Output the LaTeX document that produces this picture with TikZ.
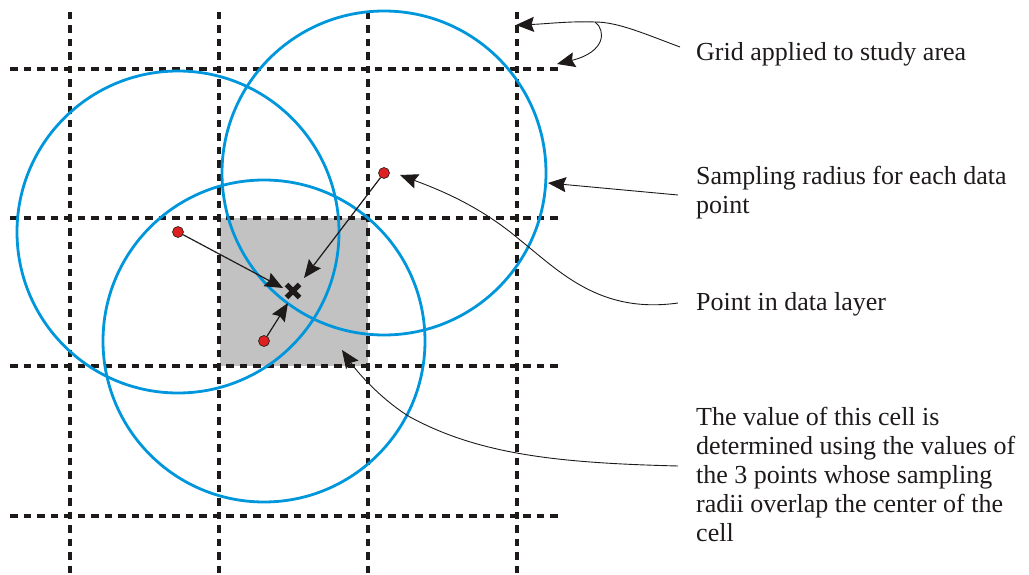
\documentclass[tikz,border=0pt]{standalone}
\usepackage{fontspec}
\setmainfont{Liberation Serif}
\usetikzlibrary{arrows.meta}
\definecolor{gridc}{RGB}{30,26,26}
\definecolor{circc}{RGB}{0,150,220}
\definecolor{cellc}{RGB}{194,194,194}
\definecolor{ptc}{RGB}{222,32,32}
\tikzset{
  gridline/.style={gridc, line width=3.4pt, dash pattern=on 7.5pt off 6pt},
  sampcirc/.style={circc, line width=2.8pt},
  datapt/.style={circle, fill=ptc, draw=gridc, line width=0.6pt, minimum size=11pt, inner sep=0pt},
  arr/.style={gridc, line width=1.2pt, -{Stealth[length=18pt,width=15pt,inset=2.5pt]}},
  callout/.style={gridc, line width=0.9pt, -{Stealth[length=18pt,width=15pt,inset=2.5pt]}},
  lbl/.style={font=\fontsize{26}{29}\selectfont, align=left, inner sep=0pt, text=gridc, anchor=north west}
}
\begin{document}
\begin{tikzpicture}[x=1pt,y=-1pt]
\useasboundingbox (0,0) rectangle (1029,575);
% shaded cell
\fill[cellc] (220,218) rectangle (368,366);
% grid
\foreach \x in {70,219,368,517} \draw[gridline] (\x,12) -- (\x,575);
\foreach \y in {69,218,366,516} \draw[gridline] (10,\y) -- (560,\y);
% data points
\node[datapt] (p1) at (178,232) {};
\node[datapt] (p2) at (384,173) {};
\node[datapt] (p3) at (264,341) {};
% sampling circles
\draw[sampcirc] (p1.center) circle[radius=161];
\draw[sampcirc] (p2.center) circle[radius=162];
\draw[sampcirc] (p3.center) circle[radius=161];
% cell centre mark
\node (cc) at (293,291) {};
\draw[gridc, line width=5pt] (286.5,284.5) -- (299.5,297.5) (286.5,297.5) -- (299.5,284.5);
% arrows to the centre
\coordinate (t1) at (283,288);
\coordinate (t2) at (304,278);
\coordinate (t3) at (288,303);
\draw[arr] (p1) -- (t1);
\draw[arr] (p2) -- (t2);
\draw[arr] (p3) -- (t3);
% labels
\node[lbl] (lgrid) at (696,42) {Grid applied to study area};
\node[lbl] (lsamp) at (696,166) {Sampling radius for each data\\point};
\node[lbl] (lpt) at (696,292) {Point in data layer};
\node[lbl] (lcell) at (696,407) {The value of this cell is\\determined using the values of\\the 3 points whose sampling\\radii overlap the center of the\\cell};
% callouts
\coordinate (cg) at (680,47);
\coordinate (cgj) at (595,22);
\coordinate (tg1) at (516,25);
\coordinate (tg2) at (557,64);
\draw[callout] (cg) .. controls (645,34) and (618,22) .. (cgj) .. controls (570,21) and (545,24) .. (tg1);
\draw[callout] (cgj) .. controls (606,30) and (606,52) .. (tg2);
\coordinate (cs) at (678,195);
\coordinate (ts) at (548,183);
\draw[callout] (cs) -- (ts);
\coordinate (cp) at (678,303);
\coordinate (tp) at (400,175);
\draw[callout] (cp) .. controls (600,314) and (560,272) .. (520,240) .. controls (480,206) and (440,190) .. (tp);
\coordinate (cc2) at (678,466);
\coordinate (tc) at (342,350);
\draw[callout] (cc2) .. controls (560,463) and (480,455) .. (410,417) .. controls (385,402) and (360,376) .. (tc);
\end{tikzpicture}
\end{document}
